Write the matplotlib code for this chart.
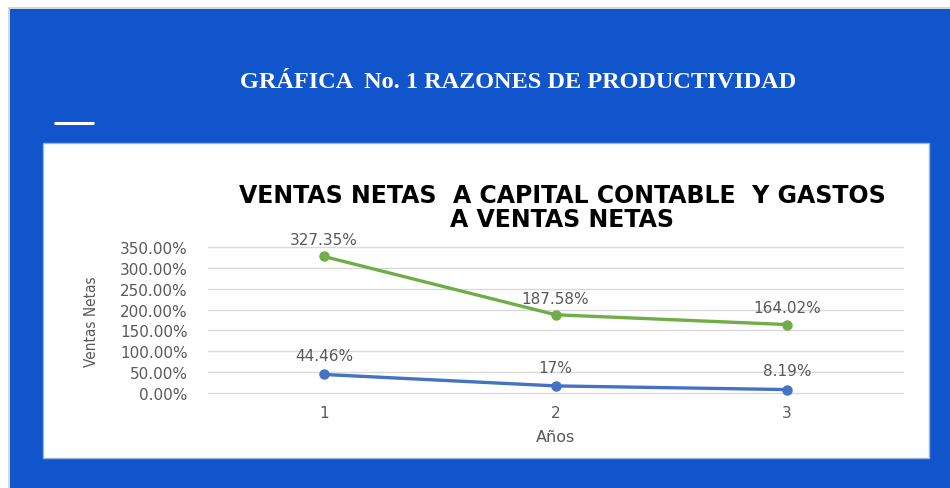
import matplotlib
matplotlib.use("Agg")
import matplotlib.pyplot as plt
from matplotlib.patches import Rectangle
from matplotlib.lines import Line2D
from matplotlib.ticker import FuncFormatter

years = [1, 2, 3]
ventas_capital = [327.35, 187.58, 164.02]
gastos_ventas = [44.46, 17.0, 8.19]
labels_capital = ["327.35%", "187.58%", "164.02%"]
labels_gastos = ["44.46%", "17%", "8.19%"]
yticks = [0, 50, 100, 150, 200, 250, 300, 350]

W, H = 950, 489
fig = plt.figure(figsize=(W / 100, H / 100), dpi=100)
fig.patch.set_facecolor("white")

def fx(px):
    return px / W

def fy(py):
    return 1 - py / H

blue = "#1155CC"
# blue background
fig.patches.append(Rectangle((fx(10), 0), 1 - fx(10), fy(10), transform=fig.transFigure,
                             facecolor=blue, edgecolor="none", zorder=0))
# light grey border
fig.add_artist(Line2D([fx(9), fx(9)], [0, fy(9)], color="#D0D0D0", lw=1.2, transform=fig.transFigure))
fig.add_artist(Line2D([fx(9), 1], [fy(9), fy(9)], color="#D0D0D0", lw=1.2, transform=fig.transFigure))
# white panel
fig.patches.append(Rectangle((fx(43), fy(459)), fx(929 - 43), (459 - 144) / H, transform=fig.transFigure,
                             facecolor="white", edgecolor="#9DB3D8", lw=1.0, zorder=1))
# small white line
fig.add_artist(Line2D([fx(54), fx(94)], [fy(124), fy(124)], color="white", lw=2.2,
                      transform=fig.transFigure, solid_capstyle="butt"))

fig.text(fx(518), fy(83), "GRÁFICA  No. 1 RAZONES DE PRODUCTIVIDAD", color="white",
         family="Liberation Serif", weight="bold", fontsize=17.5, ha="center", va="center")

fig.text(fx(562), fy(208), "VENTAS NETAS  A CAPITAL CONTABLE  Y GASTOS\nA VENTAS NETAS",
         color="black", family="DejaVu Sans", weight="bold", fontsize=17, ha="center", va="center",
         linespacing=0.98, zorder=5)

ax = fig.add_axes([fx(208), fy(394), fx(903 - 208), (394 - 248) / H])
ax.set_facecolor("none")
ax.set_zorder(3)
ax.set_xlim(0.5, 3.5)
ax.set_ylim(0, 350)
ax.set_yticks(yticks)
ax.yaxis.set_major_formatter(FuncFormatter(lambda v, p: f"{v:.2f}%"))
ax.set_xticks(years)
ax.grid(axis="y", color="#D9D9D9", lw=1)
for gl in ax.get_ygridlines():
    gl.set_clip_on(False)
ax.set_axisbelow(True)
for s in ax.spines.values():
    s.set_visible(False)
ax.tick_params(length=0, labelsize=11, labelcolor="#595959")
ax.tick_params(axis="y", pad=14.5)
ax.tick_params(axis="x", pad=9)

green = "#70AD47"
lblue = "#4472C4"
ax.plot(years, ventas_capital, color=green, lw=2.4, marker="o", ms=6.5, clip_on=False)
ax.plot(years, gastos_ventas, color=lblue, lw=2.4, marker="o", ms=6.5, clip_on=False)
for x, v, t in zip(years, ventas_capital, labels_capital):
    ax.annotate(t, (x, v), xytext=(0, 12), textcoords="offset points", ha="center", va="center",
                color="#595959", fontsize=11)
for x, v, t in zip(years, gastos_ventas, labels_gastos):
    ax.annotate(t, (x, v), xytext=(0, 13.5), textcoords="offset points", ha="center", va="center",
                color="#595959", fontsize=11)

ax.set_xlabel("Años", color="#595959", fontsize=11.5, labelpad=6)
fig.text(fx(91), fy(322), "Ventas Netas", rotation=90, color="#595959", fontsize=11,
         family="DejaVu Sans", stretch="condensed", ha="center", va="center")

fig.savefig("out.png", dpi=100)
